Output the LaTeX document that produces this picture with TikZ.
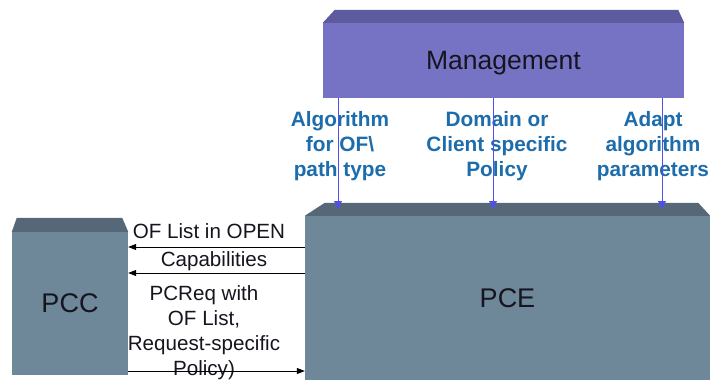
\documentclass[tikz,border=0pt]{standalone}
\usepackage{fontspec}
\setmainfont{Liberation Sans}
\usetikzlibrary{arrows.meta}

\definecolor{mgmtfront}{HTML}{7673C4}
\definecolor{mgmttop}{HTML}{5D5A9E}
\definecolor{boxfront}{HTML}{6E8799}
\definecolor{boxtop}{HTML}{566878}
\definecolor{labelblue}{HTML}{1D6CAB}
\definecolor{feedblue}{HTML}{4F4FEE}
\definecolor{inktext}{HTML}{151520}

\tikzset{
  face/.style={draw=none, inner sep=0pt, align=center, text=inktext, text depth=0pt},
  bigtext/.style={font=\fontsize{27}{30}\selectfont},
  msg/.style={font=\fontsize{20.6}{25}\selectfont, text=inktext, align=center, inner sep=0pt},
  cfg/.style={font=\bfseries\fontsize{20.8}{25}\selectfont, text=labelblue, align=center, inner sep=0pt},
  feed/.style={draw=feedblue, line width=0.9pt, -{Triangle[length=8pt,width=8pt]}},
  msgarrow/.style={draw=black, line width=0.8pt, -{Triangle[length=8pt,width=6pt]}},
}

\begin{document}
\begin{tikzpicture}[x=1pt,y=1pt]
\useasboundingbox (0,0) rectangle (710,-380);

% Management block with bevelled top
\node[face, fill=mgmtfront, minimum width=361pt, minimum height=75pt,
      font=\fontsize{26.5}{30}\selectfont] (mgmt) at (503.5,-60.5) {Management};
\fill[mgmttop] (mgmt.north west) -- ([shift={(12,13)}]mgmt.north west)
  -- ([shift={(-6,13)}]mgmt.north east) -- (mgmt.north east) -- cycle;

% PCE block
\node[face, fill=boxfront, minimum width=405pt, minimum height=164pt, bigtext] (pce) at (507.5,-298) {PCE};
\fill[boxtop] (pce.north west) -- ([shift={(20,13)}]pce.north west)
  -- ([shift={(-12,13)}]pce.north east) -- (pce.north east) -- cycle;

% PCC block
\node[face, fill=boxfront, minimum width=116pt, minimum height=143pt, bigtext] (pcc) at (70,-303.5) {PCC};
\fill[boxtop] (pcc.north west) -- ([shift={(5,14)}]pcc.north west)
  -- ([shift={(-6,14)}]pcc.north east) -- (pcc.north east) -- cycle;

% configuration inputs from Management
\node[cfg] (algo) at (340,-146) {Algorithm\\for OF\textbackslash\\path type};
\node[cfg] (policy) at (497,-146) {Domain or\\Client specific\\Policy};
\node[cfg] (adapt) at (653,-146) {Adapt\\algorithm\\parameters};

\coordinate (fa) at (338,0);
\coordinate (fb) at (493,0);
\coordinate (fc) at (662,0);
\coordinate (pcetop) at (0,-209);
\draw[feed] (mgmt.south -| fa) -- (pcetop -| fa);
\draw[feed] (mgmt.south -| fb) -- (pcetop -| fb);
\draw[feed] (mgmt.south -| fc) -- (pcetop -| fc);

% PCEP messages between PCC and PCE
\node[msg] (mopen) at (209,-231.5) {OF List in OPEN};
\node[msg] (mcap) at (214,-261) {Capabilities};
\node[msg] (mreq) at (204,-333) {PCReq with\\OF List,\\Request-specific\\Policy)};

\coordinate (ya) at (0,-247);
\coordinate (yb) at (0,-273);
\coordinate (yc) at (0,-371);
\draw[msgarrow] (pce.west |- ya) -- (pcc.east |- ya);
\draw[msgarrow] (pce.west |- yb) -- (pcc.east |- yb);
\draw[msgarrow] (pcc.east |- yc) -- (pce.west |- yc);
\end{tikzpicture}
\end{document}
